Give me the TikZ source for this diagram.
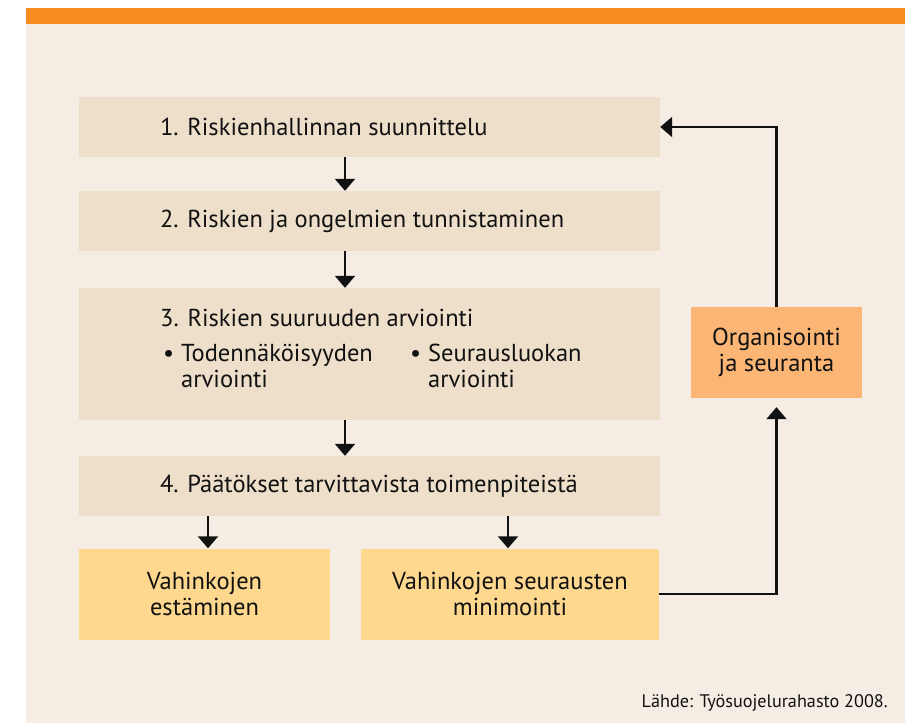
\documentclass[tikz,border=0pt]{standalone}
\usepackage{fontspec}
\setmainfont{PT Sans}
\usetikzlibrary{positioning,arrows.meta,calc}
\definecolor{barorange}{HTML}{F68B1F}
\definecolor{paper}{HTML}{F5ECE3}
\definecolor{stepfill}{HTML}{EDDFCA}
\definecolor{actfill}{HTML}{FFD88F}
\definecolor{orgfill}{HTML}{FBB574}
\definecolor{ink}{HTML}{111111}

\begin{document}
\begin{tikzpicture}[x=1pt,y=-1pt,>={Triangle[width=20pt,length=12pt]},
  font=\fontsize{24.5}{26.5}\selectfont,text=ink,
  stepbox/.style={fill=stepfill,minimum width=581pt,minimum height=60pt,inner sep=0pt},
  actbox/.style={fill=actfill,minimum height=91pt,align=center,inner sep=0pt},
  orgbox/.style={fill=orgfill,minimum width=171pt,minimum height=91pt,align=center,inner sep=0pt},
  lbl/.style={anchor=west,inner sep=0pt,align=left},
  flow/.style={->,draw=ink,line width=2.2pt}]
\useasboundingbox (0,0) rectangle (905,723);
\fill[paper] (26,24) rectangle (905,723);
\fill[barorange] (26,8) rectangle (905,24);

% steps
\node[stepbox] (plan) at (369.5,127) {};
\node[stepbox] (ident) at (369.5,221) {};
\node[stepbox,minimum height=132pt] (assess) at (369.5,354) {};
\node[stepbox] (decide) at (369.5,486) {};
\node[actbox,minimum width=251pt] (prevent) at (204.5,594) {Vahinkojen\\estäminen};
\node[actbox,minimum width=298pt] (minimize) at (510,594) {Vahinkojen seurausten\\minimointi};
\node[orgbox] (org) at (776.5,352.5) {Organisointi\\ja seuranta};

% step texts
\node[lbl] (plantxt) at ($(plan.west)+(81,0)$) {1. Riskienhallinnan suunnittelu};
\node[lbl] (identtxt) at ($(ident.west)+(81,0)$) {2. Riskien ja ongelmien tunnistaminen};
\node[lbl] (assesstxt) at (160,318) {3. Riskien suuruuden arviointi};
\node[lbl] (prob) at (163,369) {\begin{tabular}{@{}l@{}l@{}}\makebox[18pt][l]{•}&Todennäköisyyden\\&arviointi\end{tabular}};
\node[lbl] (sev) at (410,369) {\begin{tabular}{@{}l@{}l@{}}\makebox[18pt][l]{•}&Seurausluokan\\&arviointi\end{tabular}};
\node[lbl] (decidetxt) at ($(decide.west)+(81,0)$) {4. Päätökset tarvittavista toimenpiteistä};

% arrows
\coordinate (spine) at (345,0);
\coordinate (leftdrop) at (208,0);
\coordinate (rightdrop) at (508,0);
\draw[flow] (plan.south -| spine) -- (ident.north -| spine);
\draw[flow] (ident.south -| spine) -- (assess.north -| spine);
\draw[flow] (assess.south -| spine) -- (decide.north -| spine);
\draw[flow] (decide.south -| leftdrop) -- (prevent.north -| leftdrop);
\draw[flow] (decide.south -| rightdrop) -- (minimize.north -| rightdrop);
\draw[flow,shorten >=9pt] (minimize.east) -| (org.south);
\draw[flow] (org.north) |- (plan.east);

\node[lbl,anchor=east,font=\fontsize{18.2}{21}\selectfont] (source) at (888,703) {Lähde: Työsuojelurahasto 2008.};
\end{tikzpicture}
\end{document}
